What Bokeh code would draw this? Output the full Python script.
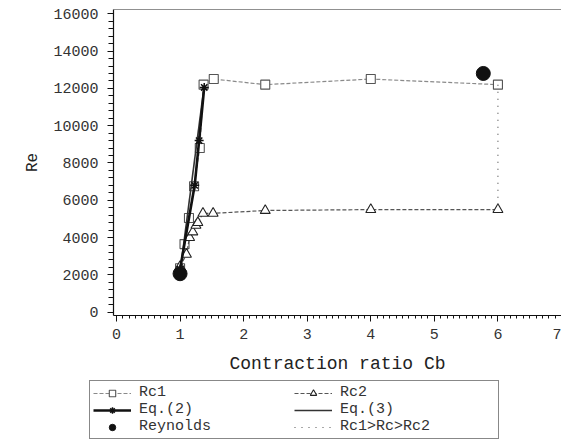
from bokeh.plotting import figure
from bokeh.layouts import column
from bokeh.models import Legend, LegendItem, Span, FixedTicker
from bokeh.embed import file_html
from bokeh.resources import INLINE

# ---- data ----
rc1_x = [1.0, 1.07, 1.14, 1.22, 1.31, 1.37, 1.53, 2.34, 4.0, 6.0]
rc1_y = [2350, 3650, 5050, 6750, 8800, 12200, 12500, 12200, 12500, 12200]

rc2_x = [1.0, 1.10, 1.15, 1.20, 1.25, 1.28, 1.36, 1.52, 2.34, 4.0, 6.0]
rc2_y = [2450, 3100, 4000, 4300, 4650, 4800, 5300, 5300, 5450, 5500, 5500]

eq2_x = [1.0, 1.23, 1.30, 1.38]
eq2_y = [2300, 6800, 9200, 12050]

eq3_x = [1.0, 1.38]
eq3_y = [2150, 12150]

rey_x = [1.0, 5.77]
rey_y = [2060, 12800]

band_x = [6.0, 6.0]
band_y = [12200, 5500]

x_ticks = [0, 1, 2, 3, 4, 5, 6, 7]
y_ticks = [0, 2000, 4000, 6000, 8000, 10000, 12000, 14000, 16000]

X_START, X_END = -0.047, 7.0
Y_START, Y_END = -180, 16230

MONO = "Liberation Mono"

# ---- styles ----
S_RC1_LINE = dict(line_color="#8a8a8a", line_width=1.2, line_dash="4 2")
S_RC1_MARK = dict(marker="square", size=9, fill_color="white", line_color="#555555", line_width=1.1)
S_RC2_LINE = dict(line_color="#555555", line_width=1.2, line_dash="4 2")
S_RC2_MARK = dict(marker="triangle", size=10, fill_color="white", line_color="#222222", line_width=1.1)
S_EQ3 = dict(line_color="#333333", line_width=1.6)
S_EQ2_LINE = dict(line_color="#111111", line_width=2.6)
S_EQ2_MARK = dict(marker="asterisk", size=9, line_color="#111111", line_width=1.5)
S_REY = dict(marker="circle", size=14, fill_color="#111111", line_color="#111111")
S_BAND = dict(line_color="#555555", line_width=1.2, line_dash="1 6")

p = figure(width=561, height=378, output_backend="svg", toolbar_location=None,
           x_range=(X_START, X_END), y_range=(Y_START, Y_END),
           min_border_left=113, min_border_right=0, min_border_top=9,
           min_border_bottom=63)
p.outline_line_color = None
p.xgrid.visible = False
p.ygrid.visible = False
p.frame_align = False

# top frame line
p.add_layout(Span(location=Y_END, dimension="width", line_color="#222222", line_width=1.2))

# ---- series ----
p.line(rc1_x, rc1_y, **S_RC1_LINE)
p.scatter(rc1_x, rc1_y, **S_RC1_MARK)
p.line(rc2_x, rc2_y, **S_RC2_LINE)
p.scatter(rc2_x, rc2_y, **S_RC2_MARK)
p.line(eq3_x, eq3_y, **S_EQ3)
p.line(eq2_x, eq2_y, **S_EQ2_LINE)
p.scatter(eq2_x, eq2_y, **S_EQ2_MARK)
p.scatter(rey_x, rey_y, **S_REY)
p.line(band_x, band_y, **S_BAND)

# ---- axes ----
for ax in (p.xaxis[0], p.yaxis[0]):
    ax.axis_line_color = "#111111"
    ax.axis_line_width = 1.2
    ax.major_tick_line_color = "#111111"
    ax.minor_tick_line_color = "#111111"
    ax.major_tick_in = 0
    ax.minor_tick_in = 0
    ax.major_label_text_font = MONO
    ax.major_label_text_font_size = "15px"
    ax.major_label_text_color = "#333333"
    ax.axis_label_text_font = MONO
    ax.axis_label_text_font_style = "normal"
    ax.axis_label_text_color = "#222222"

p.xaxis.ticker = FixedTicker(ticks=x_ticks,
                             minor_ticks=[i / 10 for i in range(0, 71)])
p.yaxis.ticker = FixedTicker(ticks=y_ticks,
                             minor_ticks=list(range(0, 16001, 400)))

p.xaxis.major_tick_out = 6
p.xaxis.minor_tick_out = 3
p.xaxis.major_label_standoff = 7
p.xaxis.axis_label = "Contraction ratio Cb"
p.xaxis.axis_label_text_font_size = "18px"
p.xaxis.axis_label_standoff = 12

p.yaxis.major_tick_out = 6
p.yaxis.minor_tick_out = 5
p.yaxis.major_label_standoff = 9
p.yaxis.axis_label = "Re"
p.yaxis.axis_label_text_font_size = "16px"
p.yaxis.axis_label_standoff = 8

# ---- legend (separate strip below the plot; its renderers sit out of view) ----
q = figure(width=561, height=62, output_backend="svg", toolbar_location=None,
           x_range=(-1000, -999), y_range=(-1000, -999), min_border=0,
           x_axis_type=None, y_axis_type=None)
q.outline_line_color = None
q.xgrid.visible = False
q.ygrid.visible = False
q.frame_align = False

l_r1l = q.line(rc1_x, rc1_y, **S_RC1_LINE)
l_r1s = q.scatter(rc1_x, rc1_y, **S_RC1_MARK)
l_r2l = q.line(rc2_x, rc2_y, **S_RC2_LINE)
l_r2s = q.scatter(rc2_x, rc2_y, **S_RC2_MARK)
l_e2l = q.line(eq2_x, eq2_y, **S_EQ2_LINE)
l_e2s = q.scatter(eq2_x, eq2_y, **S_EQ2_MARK)
l_e3l = q.line(eq3_x, eq3_y, **S_EQ3)
l_rey = q.scatter(rey_x, rey_y, **S_REY)
l_bd = q.line(band_x, band_y, **S_BAND)

legend = Legend(items=[
    LegendItem(label="Rc1", renderers=[l_r1l, l_r1s]),
    LegendItem(label="Eq.(2)", renderers=[l_e2l, l_e2s]),
    LegendItem(label="Reynolds", renderers=[l_rey]),
    LegendItem(label="Rc2", renderers=[l_r2l, l_r2s]),
    LegendItem(label="Eq.(3)", renderers=[l_e3l]),
    LegendItem(label="Rc1>Rc>Rc2", renderers=[l_bd]),
], ncols=2, location=(89, 1))
legend.label_text_font = MONO
legend.label_text_font_size = "15px"
legend.label_text_color = "#333333"
legend.label_height = 16
legend.glyph_height = 16
legend.glyph_width = 38
legend.label_standoff = 8
legend.label_width = 155
legend.spacing = 0
legend.padding = 3
legend.margin = 0
legend.border_line_color = "#111111"
legend.border_line_width = 1.2
legend.background_fill_alpha = 1
q.add_layout(legend, "center")

layout = column(p, q, spacing=0)
open("out.html", "w").write(file_html(layout, INLINE))
